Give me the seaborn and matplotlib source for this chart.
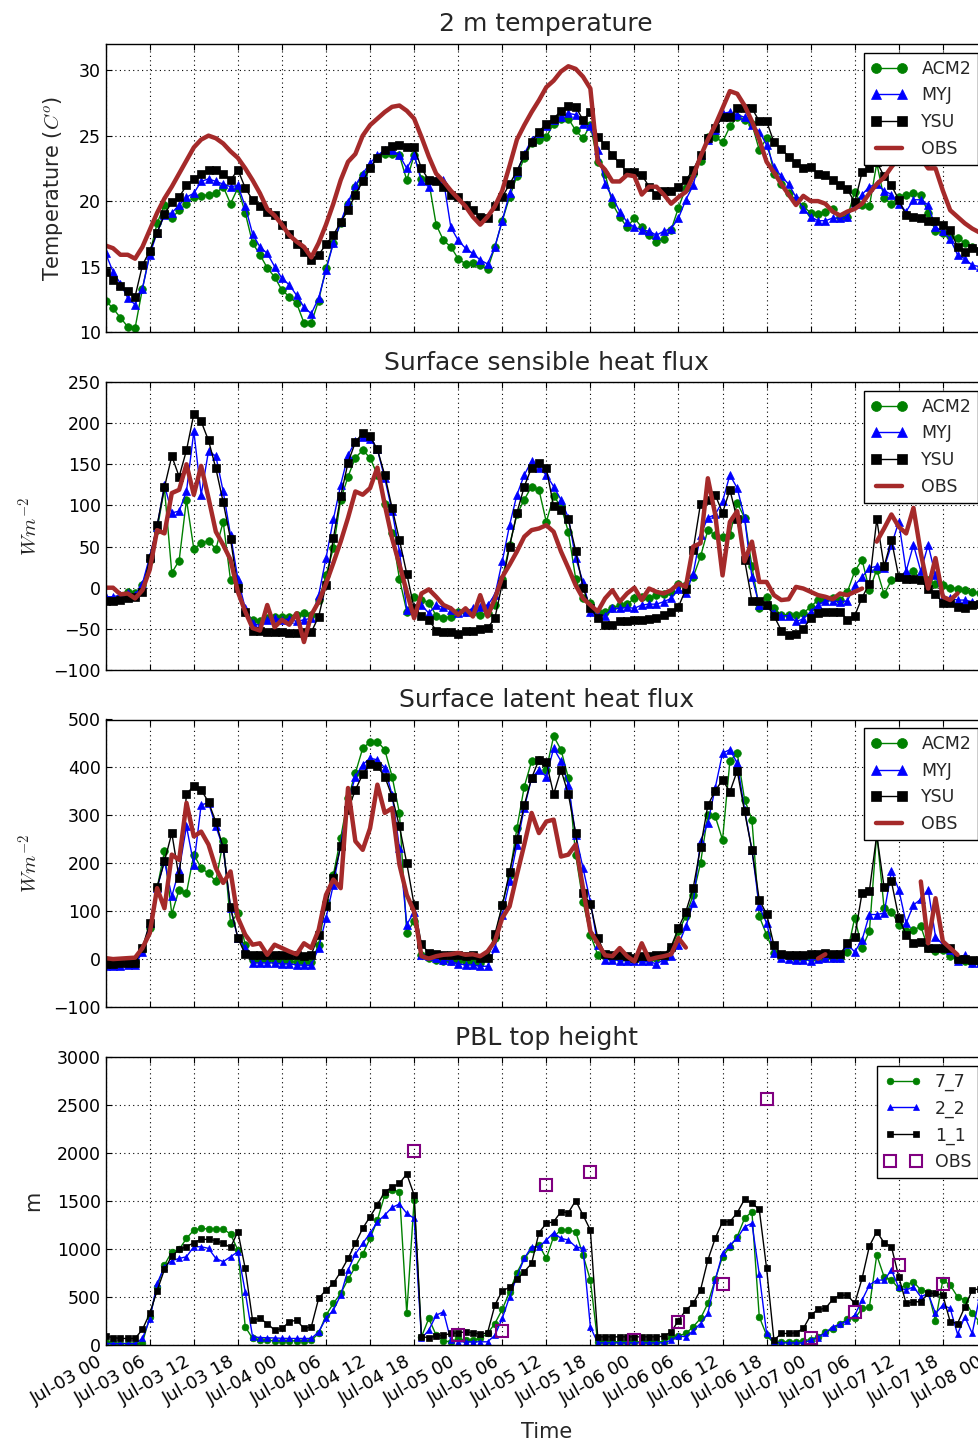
import numpy as np
import matplotlib
matplotlib.use("Agg")
import matplotlib.pyplot as plt
import seaborn as sns

nan = np.nan

# ---------------- data (hourly from Jul-03 00) ----------------
tick_labels = ["Jul-03 00", "Jul-03 06", "Jul-03 12", "Jul-03 18", "Jul-04 00", "Jul-04 06",
               "Jul-04 12", "Jul-04 18", "Jul-05 00", "Jul-05 06", "Jul-05 12", "Jul-05 18",
               "Jul-06 00", "Jul-06 06", "Jul-06 12", "Jul-06 18", "Jul-07 00", "Jul-07 06",
               "Jul-07 12", "Jul-07 18", "Jul-08 00"]
tick_hours = list(range(0, 121, 6))

# 2 m temperature
t2_acm2 = [12.4,11.8,11.1,10.4,10.3,13.3,16.0,18.3,19.7,18.7,19.3,19.8,20.3,20.4,20.5,20.6,21.1,19.8,21.0,19.1,
           16.8,15.9,14.9,14.2,13.2,12.7,12.2,10.7,10.7,12.4,14.9,16.8,18.3,19.8,21.1,22.0,22.6,23.3,23.6,23.6,
           23.5,21.6,23.5,21.7,21.5,18.2,17.0,16.5,15.6,15.2,15.3,15.1,14.8,16.5,18.5,20.3,21.9,23.3,24.4,24.7,
           24.9,25.9,26.3,26.3,25.4,24.8,25.8,23.0,22.1,19.8,18.8,18.0,18.7,18.0,17.4,16.9,17.1,17.8,19.5,21.0,
           22.1,23.1,24.9,24.9,24.5,25.7,26.4,26.2,25.9,23.9,24.8,22.1,21.3,20.6,20.1,19.6,19.1,19.0,19.2,19.4,
           18.8,18.8,20.7,19.7,19.6,22.9,20.2,19.8,20.3,20.5,20.6,20.5,19.1,17.7,17.6,17.3,17.2,16.8,16.5,16.3]
t2_myj = [16.0,14.6,13.7,12.6,12.1,13.3,15.9,17.6,18.9,19.1,19.7,20.3,20.6,21.5,21.7,21.5,21.3,21.1,21.2,19.6,
          17.5,16.5,16.0,15.0,14.1,13.6,12.8,11.9,11.4,12.6,14.7,16.8,18.4,19.9,21.2,22.1,22.9,23.5,23.9,23.9,
          23.5,22.5,23.5,21.5,21.1,21.6,21.6,18.0,17.0,16.4,16.0,15.5,15.2,16.5,18.5,20.6,22.2,23.6,24.7,25.2,
          25.7,26.2,26.4,26.7,26.6,25.9,25.7,23.9,21.3,20.3,19.2,18.4,18.0,17.8,17.7,17.4,17.7,17.9,18.7,20.1,
          21.2,23.5,24.7,25.4,26.7,26.8,26.6,26.4,25.8,25.3,24.3,22.6,21.9,21.3,20.3,19.4,18.8,18.5,18.5,18.7,
          18.7,18.8,19.8,20.5,21.1,21.3,20.8,20.5,19.8,19.2,20.1,20.1,19.7,18.0,17.7,17.1,15.9,15.6,15.1,15.0]
t2_ysu = [14.6,14.0,13.5,13.1,12.7,15.1,16.2,17.6,19.0,19.9,20.3,21.2,21.7,22.1,22.4,22.4,22.1,21.6,22.4,21.0,
          20.1,19.6,19.2,18.9,18.2,17.5,16.7,16.1,15.5,15.9,16.7,17.4,18.4,19.3,20.5,21.5,22.5,23.3,23.9,24.2,
          24.3,24.1,24.1,22.5,21.6,21.5,21.1,20.5,20.3,19.7,19.3,18.8,18.7,19.6,20.3,21.3,22.3,23.5,24.5,25.3,
          25.9,26.3,26.9,27.3,27.2,26.2,26.8,24.9,24.3,23.5,22.9,22.2,22.2,22.0,21.1,20.5,20.8,20.8,21.1,21.6,
          22.4,23.5,24.8,25.6,26.4,26.4,27.1,27.1,27.1,26.1,26.1,24.5,24.0,23.4,22.9,22.5,22.6,22.1,22.0,21.6,
          21.2,20.9,19.9,22.2,22.5,23.0,21.9,21.2,20.1,18.9,18.8,18.7,18.5,18.5,18.2,17.8,16.5,16.1,16.4,16.2]
t2_obs = [16.6,16.4,15.9,15.9,15.6,16.5,17.8,19.1,20.2,21.1,22.1,23.1,24.1,24.7,25.0,24.8,24.4,23.8,23.3,22.5,
          21.6,20.6,19.4,18.9,18.2,17.4,16.9,16.5,15.7,16.8,18.2,19.8,21.6,23.0,23.6,25.0,25.8,26.3,26.8,27.2,
          27.3,26.9,26.3,24.9,23.4,22.1,21.5,20.8,20.2,19.6,18.8,18.2,18.8,19.6,20.8,22.7,24.7,25.8,26.8,27.7,
          28.7,29.2,29.9,30.3,30.1,29.5,28.6,23.0,22.4,21.5,21.5,22.0,21.9,20.5,21.1,21.1,20.5,19.8,20.3,20.7,
          21.9,23.4,24.7,25.8,27.1,28.4,28.2,27.3,26.1,24.7,23.0,22.2,21.3,20.5,19.7,20.4,20.0,20.0,19.8,19.2,
          18.9,19.2,19.4,19.8,20.6,21.3,21.8,22.6,23.3,24.0,24.2,23.3,22.5,22.5,20.8,19.3,18.8,18.3,17.9,17.6]

# Surface sensible heat flux
sh_acm2 = [-15,-15,-13,-5,-7,3,34,70,121,18,33,107,47,54,57,47,80,9,3,-29,
           -39,-41,-37,-35,-35,-35,-33,-31,-33,-15,15,48,107,135,158,167,158,137,102,66,
           11,-29,-11,-15,-18,-34,-37,-35,-29,-29,-29,-33,-31,-21,11,52,89,107,123,119,
           80,111,99,68,11,-13,-18,-29,-29,-25,-21,-20,-13,-11,-13,-9,-8,-5,4,3,
           13,38,70,64,62,64,103,85,26,-25,-11,-25,-33,-33,-33,-31,-23,-15,-14,-13,
           -15,-5,20,34,-3,22,-8,9,13,15,20,11,9,5,3,0,-1,-3,-5,-6]
sh_myj = [-11,-11,-9,-7,-9,5,38,74,125,91,93,117,190,113,166,160,117,64,11,-25,
          -43,-46,-39,-37,-39,-38,-41,-39,-37,-9,36,83,125,161,178,183,181,168,133,93,
          44,-27,-25,-21,-31,-21,-24,-27,-31,-29,-25,-23,-21,-9,32,76,113,137,154,146,
          137,123,107,85,36,7,-29,-33,-34,-25,-25,-24,-25,-21,-20,-20,-17,-13,-2,-7,
          17,64,85,89,105,137,121,85,13,-21,-21,-31,-34,-34,-41,-38,-29,-21,-16,-16,
          -17,-16,3,13,24,26,24,52,80,20,52,20,52,15,-11,-13,-15,-15,-17,-18]
sh_ysu = [-16,-16,-15,-13,-11,-5,36,76,122,160,135,167,211,202,179,145,104,59,0,-30,
          -52,-53,-54,-54,-54,-55,-55,-54,-54,-35,3,60,111,152,177,188,184,168,137,97,
          58,17,-25,-34,-39,-52,-54,-54,-56,-53,-52,-50,-49,-37,5,50,91,123,146,152,
          145,99,95,83,45,0,-25,-37,-45,-45,-41,-41,-39,-39,-38,-37,-33,-29,-23,-2,
          46,102,106,113,91,119,83,34,-16,-16,-21,-34,-52,-57,-56,-50,-37,-31,-30,-29,
          -29,-39,-34,-12,5,83,26,58,13,11,11,9,-2,-8,-18,-18,-24,-25,-21,-20]
sh_obs = [0,0,-8,-7,-13,-3,22,70,66,115,119,150,113,148,109,68,52,34,-5,-29,
          -49,-52,-21,-48,-39,-45,-31,-66,-33,-17,5,30,56,85,117,113,121,146,101,60,
          28,-5,-37,-7,-2,-11,-21,-25,-33,-25,-35,-9,-35,-13,13,28,44,62,70,72,
          76,68,44,24,3,-13,-21,-29,-13,-3,-17,-7,0,-15,-1,-5,-7,-3,5,1,
          50,54,133,89,15,80,93,32,56,7,7,-9,-15,-14,1,-1,-5,-9,-11,-14,
          -7,-9,-5,-1,nan,56,72,89,74,66,97,42,-1,36,-11,-15,-7,nan,nan,nan]

# Surface latent heat flux
lh_acm2 = [-8,-8,-8,-8,-6,19,65,148,225,94,145,138,218,190,179,162,246,75,96,30,
           -1,-1,-1,-3,-5,-5,-6,-6,-6,30,120,176,253,336,388,440,453,454,437,381,
           305,54,80,9,3,-1,-5,-3,-5,-6,-6,-8,2,44,113,176,273,360,413,416,
           395,465,437,378,218,120,51,9,6,2,2,2,1,1,1,2,3,23,58,89,
           134,200,301,298,249,413,430,333,291,89,51,13,6,6,3,3,2,3,3,3,
           3,15,86,23,58,263,106,99,72,58,61,68,23,16,19,6,-1,-3,-8,-8]
lh_myj = [-15,-15,-14,-13,-12,15,75,148,204,131,186,277,197,322,326,277,232,106,44,23,
          -8,-8,-8,-8,-10,-10,-12,-13,-13,23,86,155,239,326,381,406,419,416,399,343,
          232,72,99,9,6,3,-1,-5,-10,-12,-12,-15,-15,23,93,162,239,315,378,395,
          381,440,413,364,259,190,120,30,-1,-1,-3,-3,-5,-5,-5,-10,-1,6,30,68,
          117,246,284,357,430,437,409,312,228,110,75,13,2,1,-1,-1,-3,1,2,2,
          2,31,15,40,93,93,96,183,145,75,113,125,145,47,30,19,-5,9,-8,-8]
lh_ysu = [-10,-10,-9,-8,-8,24,75,150,204,263,169,344,362,353,328,286,232,108,44,10,
          8,8,8,8,8,8,8,6,9,51,110,170,235,312,353,386,407,402,381,339,
          277,200,113,31,13,10,8,8,8,6,8,2,3,52,112,182,251,321,378,416,
          411,344,395,344,263,138,115,45,10,9,8,6,3,6,6,8,9,26,65,99,
          148,233,321,351,374,349,393,308,228,124,94,29,10,9,9,9,10,10,13,10,
          10,33,47,138,143,259,150,162,86,51,33,35,24,24,23,23,1,1,-1,-2]
lh_obs = [2,0,1,2,3,23,54,148,106,218,207,326,256,266,239,190,159,183,86,51,
          30,33,9,30,23,16,10,33,23,61,134,166,148,357,246,228,273,364,305,315,
          197,134,99,6,1,6,9,10,13,9,10,6,16,37,86,110,176,239,305,263,
          287,291,214,218,239,148,58,33,8,6,23,6,-5,33,-1,3,6,10,44,24,
          nan,nan,nan,nan,nan,nan,nan,nan,nan,nan,nan,nan,nan,nan,nan,nan,nan,1,10,nan,
          nan,nan,nan,nan,nan,nan,nan,nan,nan,nan,nan,162,33,127,37,23,9,nan,nan,nan]

# PBL top height (hourly, 121 values)
pbl_77 = [28,17,10,10,10,17,289,602,829,968,992,1107,1194,1212,1205,1205,1205,1153,985,185,
          63,45,45,38,38,38,38,38,45,115,306,428,533,679,811,944,1107,1299,1560,1612,
          1595,324,1508,80,272,97,38,28,63,45,45,63,115,219,366,550,749,898,992,1038,
          898,1125,1194,1194,1177,933,672,28,28,28,28,28,28,28,28,28,28,80,90,115,
          185,272,428,679,916,1020,1125,1316,1386,289,97,10,28,28,28,40,52,80,132,157,
          219,261,272,376,393,933,707,672,585,620,655,568,550,247,672,620,498,463,324,237,
          150]
pbl_22 = [10,10,10,10,10,63,261,637,811,874,898,916,1020,1020,1003,898,864,916,968,550,
          80,73,70,68,65,63,63,63,63,132,272,359,515,776,944,1055,1160,1281,1351,1430,
          1466,1368,1316,63,150,306,341,45,28,28,28,28,28,97,272,498,707,898,1020,1020,
          1090,1166,1107,1090,1020,1003,185,17,17,17,17,17,17,17,17,17,17,45,90,80,
          143,219,324,672,951,1038,1107,1229,1264,735,115,28,17,17,17,17,45,73,122,185,
          212,247,306,463,620,672,672,776,595,568,602,498,533,324,411,376,108,289,115,498,
          600]
pbl_11 = [87,73,63,63,63,157,324,561,783,923,992,1020,1062,1097,1097,1083,1055,1013,1177,794,
          254,272,219,150,167,237,254,167,185,481,568,637,759,898,1055,1212,1334,1456,1595,1640,
          1682,1779,1560,80,73,87,97,115,122,132,122,108,122,411,561,595,679,760,846,1166,
          1264,1281,1386,1375,1501,1351,1194,80,80,80,80,80,80,80,80,80,87,130,250,359,
          428,568,881,1107,1281,1281,1375,1515,1473,1410,794,45,115,115,122,167,306,366,376,470,
          515,515,428,689,1027,1177,1062,1020,707,428,446,446,533,533,515,237,219,393,568,580,
          600]
pbl_obs_hours = [42, 48, 54, 60, 66, 72, 78, 84, 90, 96, 102, 108, 114]
pbl_obs = [2023, 97, 143, 1664, 1804, 52, 237, 627, 2563, 73, 341, 829, 627]

# ---------------- style ----------------
sns.set_style("ticks")
plt.rcParams.update({
    "font.family": ["DejaVu Sans"],
    "mathtext.fontset": "cm",
    "xtick.direction": "in", "ytick.direction": "in",
    "xtick.top": True, "ytick.right": True,
    "xtick.major.size": 4, "ytick.major.size": 4,
    "xtick.color": "k", "ytick.color": "k",
    "axes.edgecolor": "k", "axes.linewidth": 1.0,
    "axes.unicode_minus": True,
})

W, H = 979, 1445
fig = plt.figure(figsize=(W / 100, H / 100), dpi=100)
left = 105.7 / W
width = (986.9 - 105.7) / W

def add_axes(top_px, bot_px):
    return fig.add_axes([left, 1 - bot_px / H, width, (bot_px - top_px) / H])

ax1 = add_axes(44, 332)
ax2 = add_axes(382, 670)
ax3 = add_axes(719.5, 1007)
ax4 = add_axes(1057, 1344.5)

hours120 = np.arange(120)
hours121 = np.arange(121)

model_styles = [("ACM2", "green", "o"), ("MYJ", "blue", "^"), ("YSU", "black", "s")]

def draw_models(ax, x, series, ms):
    for (lab, col, mk), y in zip(model_styles, series):
        sns.lineplot(x=x, y=y, ax=ax, color=col, marker=mk, markersize=ms,
                     markeredgecolor=col, markeredgewidth=0.5, linewidth=1.0,
                     label=lab, legend=False, sort=False, estimator=None)

def draw_obs(ax, x, y):
    y = np.asarray(y, dtype=float)
    ok = ~np.isnan(y)
    first = True
    start = None
    for i in range(len(y) + 1):
        if i < len(y) and ok[i]:
            if start is None:
                start = i
        else:
            if start is not None:
                seg = slice(start, i)
                sns.lineplot(x=x[seg], y=y[seg], ax=ax, color="brown", linewidth=3.2,
                             label="OBS" if first else None, legend=False,
                             sort=False, estimator=None)
                first = False
                start = None

def finish(ax, title, ylabel, ylim, yticks, xmax, show_xlabels, ylabelpad):
    ax.set_title(title, fontsize=18, pad=9)
    ax.set_ylabel(ylabel, fontsize=15, labelpad=ylabelpad)
    ax.set_ylim(*ylim)
    ax.set_yticks(yticks)
    ax.set_xlim(0, xmax)
    ax.set_xticks(tick_hours)
    ax.grid(True, linestyle=(0, (1, 3)), color="k", linewidth=0.8)
    ax.tick_params(axis="y", labelsize=12.5)
    if show_xlabels:
        ax.set_xticklabels(tick_labels, rotation=30, ha="right", fontsize=13)
        ax.tick_params(axis="x", pad=6)
        ax.set_xlabel("Time", fontsize=15, labelpad=10)
    else:
        ax.set_xticklabels([])
        ax.set_xlabel("")
    for s in ax.spines.values():
        s.set_visible(True)

# Panel 1
draw_models(ax1, hours120, [t2_acm2, t2_myj, t2_ysu], 5.5)
draw_obs(ax1, hours120, t2_obs)
finish(ax1, "2 m temperature", r"Temperature ($C^o$)", (10, 32), [10, 15, 20, 25, 30], 119, False, 10)

# Panel 2
draw_models(ax2, hours120, [sh_acm2, sh_myj, sh_ysu], 5.5)
draw_obs(ax2, hours120, sh_obs)
finish(ax2, "Surface sensible heat flux", r"$Wm^{-2}$", (-100, 250),
       list(range(-100, 251, 50)), 119, False, 8)

# Panel 3
draw_models(ax3, hours120, [lh_acm2, lh_myj, lh_ysu], 5.5)
draw_obs(ax3, hours120, lh_obs)
finish(ax3, "Surface latent heat flux", r"$Wm^{-2}$", (-100, 500),
       list(range(-100, 501, 100)), 119, False, 8)

for ax in (ax1, ax2, ax3):
    ax.legend(loc="upper right", numpoints=2, fancybox=False, edgecolor="k",
              framealpha=1, fontsize=12.5, markerscale=1.3, handlelength=2.1,
              borderaxespad=0.5)

# Panel 4
pbl_styles = [("7_7", "green", "o", pbl_77), ("2_2", "blue", "^", pbl_22), ("1_1", "black", "s", pbl_11)]
for lab, col, mk, y in pbl_styles:
    sns.lineplot(x=hours121, y=y, ax=ax4, color=col, marker=mk, markersize=4.8,
                 markeredgecolor=col, markeredgewidth=0.5, linewidth=1.0,
                 label=lab, legend=False, sort=False, estimator=None)
sns.lineplot(x=pbl_obs_hours, y=pbl_obs, ax=ax4, color="purple", marker="s",
             linestyle="none", markersize=8, markerfacecolor="none",
             markeredgecolor="purple", markeredgewidth=1.5, label="OBS",
             legend=False, sort=False, estimator=None)
finish(ax4, "PBL top height", "m", (0, 3000), list(range(0, 3001, 500)), 120, True, 10)
ax4.legend(loc="upper right", numpoints=2, fancybox=False, edgecolor="k",
           framealpha=1, fontsize=12.5, handlelength=2.1, borderaxespad=0.5)

fig.savefig("out.png", dpi=100)
